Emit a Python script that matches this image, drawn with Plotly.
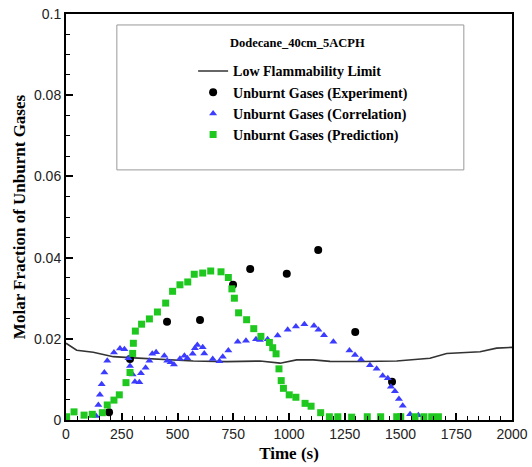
import plotly.graph_objects as go

# Low Flammability Limit (solid line)
lfl_t = [0, 48, 122, 212, 302, 421, 571, 720, 870, 960, 1034, 1109, 1184, 1333, 1483, 1632, 1707, 1857, 1931, 2000]
lfl_y = [0.0189, 0.0172, 0.0167, 0.0156, 0.0153, 0.0150, 0.01453, 0.01437, 0.01453, 0.0140, 0.0148, 0.0148, 0.01445, 0.0144, 0.01453, 0.0152, 0.0164, 0.0168, 0.0177, 0.0179]

# Unburnt Gases (Experiment)
exp_t = [193, 287, 453, 601, 749, 826, 990, 1131, 1297, 1462]
exp_y = [0.0019, 0.0150, 0.0242, 0.0246, 0.0333, 0.0372, 0.0360, 0.0419, 0.0217, 0.0094]

# Unburnt Gases (Correlation)
cor_t = [135, 145, 152, 160, 172, 185, 215, 242, 262, 280, 287, 299, 309, 329, 336, 357, 374, 387, 404,
         441, 454, 469, 484, 511, 531, 544, 568, 578, 589, 613, 620, 658, 688, 703, 728, 770, 807, 852,
         870, 904, 949, 994, 1031, 1069, 1112, 1132, 1157, 1199, 1271, 1296, 1323, 1363, 1393, 1420,
         1443, 1457, 1475, 1493, 1510, 1543, 1580]
cor_y = [0.0010, 0.0037, 0.0062, 0.0088, 0.0117, 0.0146, 0.0166, 0.0176, 0.0174, 0.0152, 0.0133, 0.0112,
         0.0094, 0.0093, 0.0115, 0.0129, 0.0146, 0.0163, 0.0167, 0.0158, 0.0146, 0.0142, 0.0137, 0.0151,
         0.0158, 0.0152, 0.0163, 0.0177, 0.0185, 0.0179, 0.0164, 0.0150, 0.0145, 0.0156, 0.0171, 0.0193,
         0.0195, 0.0199, 0.0197, 0.0199, 0.0208, 0.0222, 0.0230, 0.0236, 0.0232, 0.0222, 0.0209, 0.0193,
         0.0171, 0.0160, 0.0149, 0.0135, 0.0126, 0.0109, 0.0103, 0.0082, 0.0071, 0.0052, 0.0035, 0.0014,
         0.0012]

# Unburnt Gases (Prediction)
pre_t = [3, 36, 81, 118, 163, 185, 215, 239, 269, 287, 299, 302, 311, 339, 374, 410, 447, 478, 511, 546,
         575, 613, 649, 695, 728, 744, 755, 774, 810, 842, 874, 912, 927, 942, 955, 965, 975, 1001, 1031,
         1072, 1099, 1142, 1181, 1219, 1281, 1351, 1411, 1483, 1501, 1565, 1605, 1640, 1670]
pre_y = [0.0008, 0.0020, 0.0012, 0.0014, 0.0018, 0.0037, 0.0049, 0.0062, 0.0092, 0.0117, 0.0164, 0.0189,
         0.0219, 0.0236, 0.0249, 0.0266, 0.0288, 0.0317, 0.0333, 0.0340, 0.0359, 0.0362, 0.0367, 0.0365,
         0.0351, 0.0323, 0.0300, 0.0264, 0.0247, 0.0225, 0.0206, 0.0191, 0.0178, 0.0163, 0.0126, 0.0097,
         0.0078, 0.0062, 0.0056, 0.0041, 0.0034, 0.0018, 0.0008, 0.0008, 0.0007, 0.0008, 0.0008, 0.0008,
         0.0008, 0.0008, 0.0008, 0.0008, 0.0008]

x_ticks = [0, 250, 500, 750, 1000, 1250, 1500, 1750, 2000]
y_ticks = [0, 0.02, 0.04, 0.06, 0.08, 0.1]
y_tick_text = ["0", "0.02", "0.04", "0.06", "0.08", "0.1"]

serif = "Liberation Serif"
sans = "Liberation Sans"

fig = go.Figure()
fig.add_trace(go.Scatter(x=lfl_t, y=lfl_y, mode="lines", name="<b>Low Flammability Limit</b>",
                         line=dict(color="#333333", width=1.6)))
fig.add_trace(go.Scatter(x=exp_t, y=exp_y, mode="markers", name="<b>Unburnt Gases (Experiment)</b>",
                         marker=dict(symbol="circle", size=8, color="black")))
fig.add_trace(go.Scatter(x=cor_t, y=cor_y, mode="markers", name="<b>Unburnt Gases (Correlation)</b>",
                         marker=dict(symbol="triangle-up", size=7, color="#3c3cff")))
fig.add_trace(go.Scatter(x=pre_t, y=pre_y, mode="markers", name="<b>Unburnt Gases (Prediction)</b>",
                         marker=dict(symbol="square", size=7, color="#1ec81e")))

fig.update_layout(
    width=532, height=467,
    margin=dict(l=66, r=20, t=14, b=47, autoexpand=False),
    paper_bgcolor="white", plot_bgcolor="white",
    showlegend=True,
    legend=dict(x=0.285, y=0.898, xanchor="left", yanchor="top",
                bgcolor="rgba(0,0,0,0)", borderwidth=0,
                font=dict(family=serif, size=14, color="black"),
                tracegroupgap=0),
    shapes=[dict(type="rect", xref="paper", yref="paper", x0=0.114, x1=0.892, y0=0.616, y1=0.973,
                 line=dict(color="#999999", width=1), fillcolor="rgba(0,0,0,0)", layer="below")],
    annotations=[dict(text="<b>Dodecane_40cm_5ACPH</b>", xref="paper", yref="paper",
                      x=0.518, y=0.928, xanchor="center", yanchor="middle", showarrow=False,
                      font=dict(family=serif, size=12.5, color="black"))],
)

fig.update_xaxes(range=[0, 2000], tickvals=x_ticks, ticks="inside", ticklen=7, tickwidth=1.5,
                 tickcolor="black", showline=True, linecolor="black", linewidth=2, mirror=True,
                 showgrid=False, zeroline=False, automargin=False,
                 minor=dict(dtick=50, ticks="inside", ticklen=4, tickcolor="black", tickwidth=1),
                 tickfont=dict(family=sans, size=14, color="#222222"),
                 title=dict(text="<b>Time (s)</b>", font=dict(family=serif, size=17, color="black"), standoff=6))
fig.update_yaxes(range=[0, 0.1], tickvals=y_ticks, ticktext=y_tick_text, ticks="inside", ticklen=7,
                 tickwidth=1.5, tickcolor="black", showline=True, linecolor="black", linewidth=2,
                 mirror=True, showgrid=False, zeroline=False, automargin=False,
                 minor=dict(dtick=0.005, ticks="inside", ticklen=4, tickcolor="black", tickwidth=1),
                 tickfont=dict(family=sans, size=14, color="#222222"),
                 title=dict(text="<b>Molar Fraction of Unburnt Gases</b>",
                            font=dict(family=serif, size=17, color="black"), standoff=4))

fig.write_html("out.html")
